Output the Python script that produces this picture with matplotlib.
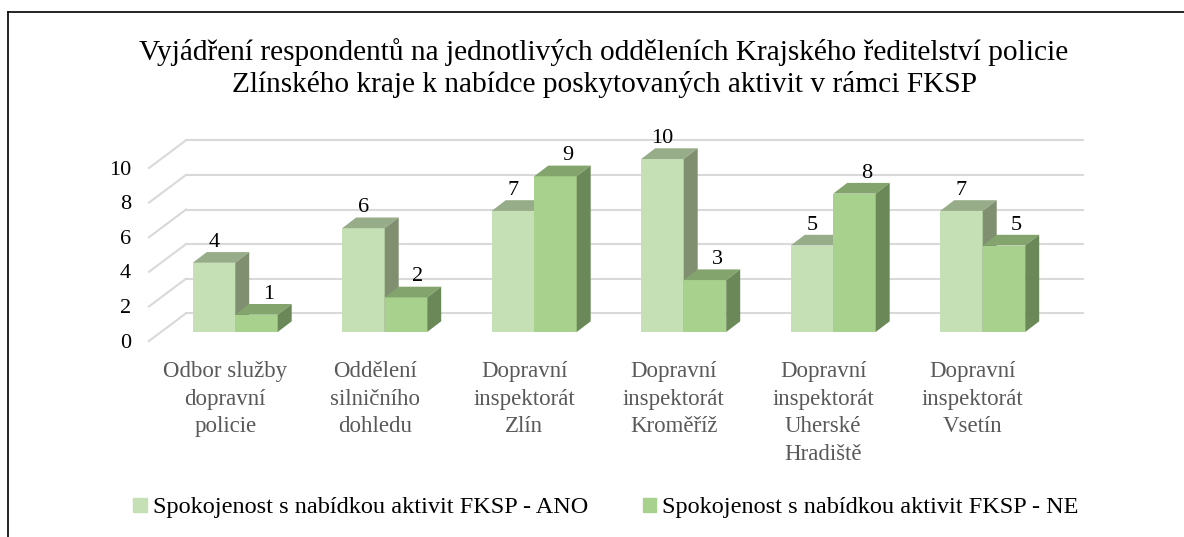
import numpy as np
import matplotlib.pyplot as plt
from matplotlib.patches import Polygon, Patch
from matplotlib.lines import Line2D

plt.rcParams['font.family'] = ['Liberation Serif', 'DejaVu Serif']

# data
categories = ["Odbor služby\ndopravní\npolicie", "Oddělení\nsilničního\ndohledu",
              "Dopravní\ninspektorát\nZlín", "Dopravní\ninspektorát\nKroměříž",
              "Dopravní\ninspektorát\nUherské\nHradiště", "Dopravní\ninspektorát\nVsetín"]
ano = [4, 6, 7, 10, 5, 7]
ne = [1, 2, 9, 3, 8, 5]
series_names = ["Spokojenost s nabídkou aktivit FKSP - ANO",
                "Spokojenost s nabídkou aktivit FKSP - NE"]
yticks = [0, 2, 4, 6, 8, 10]
title_lines = ["Vyjádření respondentů na jednotlivých odděleních Krajského ředitelství policie",
               "Zlínského kraje k nabídce poskytovaných aktivit v rámci FKSP"]

# colours: front, top, side
colors = [("#C5E0B4", "#97AD89", "#7F8F70"),
          ("#A9D18E", "#83A56D", "#6B8958")]

W, H = 1184, 537
fig = plt.figure(figsize=(W / 100, H / 100), dpi=100)
ax = fig.add_axes([0, 0, 1, 1])

# scale: pixels per category / per value unit
px_cat = 149.5
px_val = 17.3
x0_px = 235.2   # front centre of first group
y0_px = 332.0   # front baseline
ax.set_xlim(-x0_px / px_cat, (W - x0_px) / px_cat)
ax.set_ylim((y0_px - H) / px_val, y0_px / px_val)
ax.axis('off')


def dx(p):
    return p / px_cat


def dy(p):
    return p / px_val


bw = dx(42.5)       # bar width
ddx, ddy = dx(14), dy(10.7)   # bar depth offset

# back wall gridlines + diagonals
xb_left = dx(186 - x0_px)
xb_right = dx(1083 - x0_px)
yb_off = dy(y0_px - 313.3)
xf = dx(149 - x0_px)
yf_off = dy(y0_px - 341.0)
for v in yticks:
    ax.plot([xb_left, xb_right], [v + yb_off, v + yb_off], color="#D9D9D9", lw=1.5, zorder=1)
    ax.plot([xf, xb_left], [v + yf_off, v + yb_off], color="#D9D9D9", lw=1.5, zorder=1)
    ax.text(dx(131 - x0_px), v - dy(340.7 - y0_px), str(v), ha='right', va='center_baseline',
            fontsize=16, color="#000000")

x = np.arange(len(categories))
for i in range(len(categories)):
    for s, vals in enumerate([ano, ne]):
        v = vals[i]
        left = x[i] - bw + s * bw
        front, top, side = colors[s]
        z = 3 + s
        ax.bar(left, v, width=bw, align='edge', color=front, zorder=z)
        ax.add_patch(Polygon([(left, v), (left + bw, v), (left + bw + ddx, v + ddy),
                              (left + ddx, v + ddy)], closed=True, color=top, lw=0, zorder=z))
        ax.add_patch(Polygon([(left + bw, 0), (left + bw + ddx, ddy), (left + bw + ddx, v + ddy),
                              (left + bw, v)], closed=True, color=side, lw=0, zorder=z))
        lx = left + bw / 2 + (dx(12) if s == 1 else 0)
        ax.text(lx, v + dy(23), str(v), ha='center', va='center_baseline', fontsize=16,
                color="#000000", zorder=10)
    ax.text(x[i] - dx(10), dy(y0_px - 361), categories[i], ha='center', va='top',
            fontsize=16.5, color="#595959", linespacing=1.42)

# title
fig.text(604 / W, 1 - 60 / H, title_lines[0], ha='center', va='baseline', fontsize=21.2)
fig.text(604 / W, 1 - 92 / H, title_lines[1], ha='center', va='baseline', fontsize=21.2)

# legend
handles = [Patch(color=colors[0][0]), Patch(color=colors[1][0])]
fig.legend(handles, series_names, loc='center', bbox_to_anchor=(606 / W, 1 - 508 / H),
           ncol=2, frameon=False, fontsize=17.5, handlelength=0.55, handleheight=0.55,
           handletextpad=0.25, columnspacing=2.25)

# chart border (left and top)
fig.add_artist(Line2D([8 / W, 8 / W], [0, 1 - 12 / H], color="black", lw=1.2))
fig.add_artist(Line2D([8 / W, 1], [1 - 12 / H, 1 - 12 / H], color="black", lw=1.2))

fig.savefig("out.png", dpi=100)
